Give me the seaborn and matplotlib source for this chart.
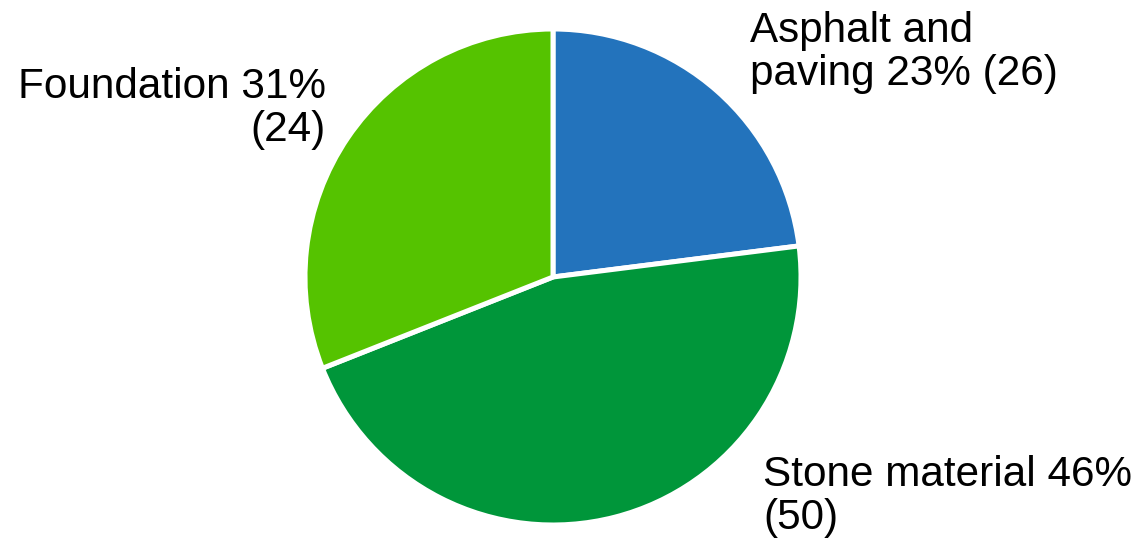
import matplotlib
matplotlib.use("Agg")
import matplotlib.pyplot as plt
import seaborn as sns

# Share of each material group (percent) and number of items in it
categories = ["Asphalt and paving", "Stone material", "Foundation"]
shares = [23, 46, 31]
counts = [26, 50, 24]
colors = ["#2373BC", "#00963A", "#55C300"]

sns.set_theme(style="white")
plt.rcParams["font.family"] = ["Liberation Sans", "DejaVu Sans"]

W, H = 1140, 542
fig = plt.figure(figsize=(W / 100, H / 100), dpi=100)
fig.patch.set_facecolor("white")

cx, cy, r = 553, 277, 248
ax = fig.add_axes([(cx - r) / W, (H - cy - r) / H, 2 * r / W, 2 * r / H])
ax.pie(shares, colors=colors, startangle=90, counterclock=False,
       radius=1, center=(0, 0),
       wedgeprops=dict(edgecolor="white", linewidth=3.6))
ax.set_xlim(-1, 1)
ax.set_ylim(-1, 1)
ax.set_aspect("equal")
ax.axis("off")

labels = {
    "Asphalt and paving": f"Asphalt and\npaving {shares[0]}% ({counts[0]})",
    "Stone material": f"Stone material {shares[1]}%\n({counts[1]})",
    "Foundation": f"Foundation {shares[2]}%\n({counts[2]})",
}

def px(x, y):
    return ((x - cx) / r, (cy - y) / r)

fs = 30.4
style = dict(fontsize=fs, linespacing=1.1, color="black", clip_on=False)
ax.text(*px(750, 11), labels["Asphalt and paving"], ha="left", va="top",
        multialignment="left", **style)
ax.text(*px(763, 455), labels["Stone material"], ha="left", va="top",
        multialignment="left", **style)
ax.text(*px(326, 67), labels["Foundation"], ha="right", va="top",
        multialignment="right", **style)

fig.savefig("out.png", dpi=100, facecolor="white")
